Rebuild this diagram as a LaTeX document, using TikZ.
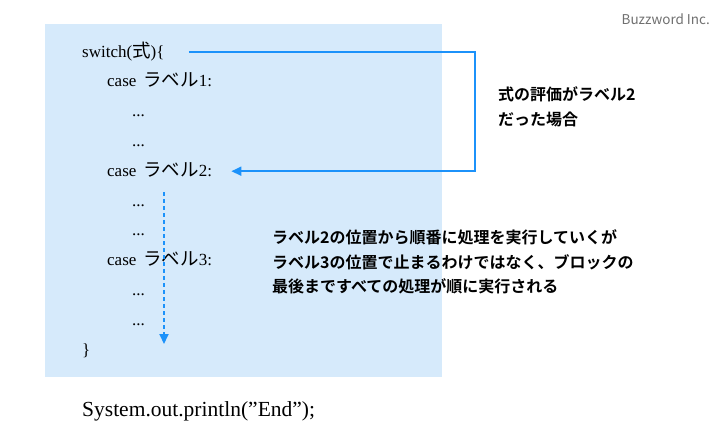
\documentclass[tikz,border=0pt]{standalone}
\usepackage{fontspec}
\setmainfont{Liberation Serif}
\newfontfamily\jp{Noto Sans CJK JP}
\newfontfamily\jpbold{Noto Sans CJK JP Bold}
\usetikzlibrary{arrows.meta,positioning,calc}
\definecolor{blockblue}{RGB}{214,234,251}
\definecolor{flowblue}{RGB}{28,146,250}
\definecolor{markgray}{RGB}{112,112,112}
\newcommand{\jpcode}{\jp\fontsize{18.5}{20}\selectfont}

\begin{document}
\begin{tikzpicture}[x=1pt,y=-1pt,
        code/.style={anchor=base west,inner sep=0pt,font=\fontsize{17}{19}\selectfont},
        note/.style={anchor=west,align=left,inner sep=0pt,font=\jpbold\fontsize{16}{24.5}\selectfont},
        flow/.style={flowblue,line width=1.8pt,-{Triangle[length=10pt,width=9pt]}}]
    \useasboundingbox (0,0) rectangle (728,442);
    \fill[blockblue] (45,24) rectangle (442,377);
    \node[anchor=east,inner sep=0pt,text=markgray,font=\jp\fontsize{13.5}{15}\selectfont] (mark) at (710,19) {Buzzword Inc.};

    % the switch block, one line every 29.8px
    \node[code] (sw) at (82,57) {switch({\jpcode 式})\{};
    \foreach \n/\lab in {1/1,4/2,7/3}
        {
            \node[code] (case\lab) at (107,57+\n*29.8) {case\hspace{7pt}{\jpcode ラベル}\lab:};
        }
    \foreach \n in {2,3,5,6,8,9}
        {
            \node[code] (dots\n) at (132,57+\n*29.8) {...};
        }
    \node[code] (close) at (82,355) {\}};
    \node[code] (endln) at (82,416) {\fontsize{21.5}{24}\selectfont System.out.println(\symbol{"22}End\symbol{"22});};

    % jump to the matching case
    \coordinate (jumpR) at (475,52);
    \draw[flow] ($(sw.base east)+(24,-5)$) -- (jumpR) |- ($(case2.base east)+(19,-5)$);
    \node[note] (jumpnote) at (498,107) {式の評価がラベル2\\だった場合};

    % fall through to the end of the block
    \coordinate (fallA) at (164,192);
    \coordinate (fallB) at (164,344);
    \draw[flow,dash pattern=on 4pt off 3pt] (fallA) -- (fallB);
    \node[note] (fallnote) at (272,262) {ラベル2の位置から順番に処理を実行していくが\\ラベル3の位置で止まるわけではなく、ブロックの\\最後まですべての処理が順に実行される};
\end{tikzpicture}
\end{document}
